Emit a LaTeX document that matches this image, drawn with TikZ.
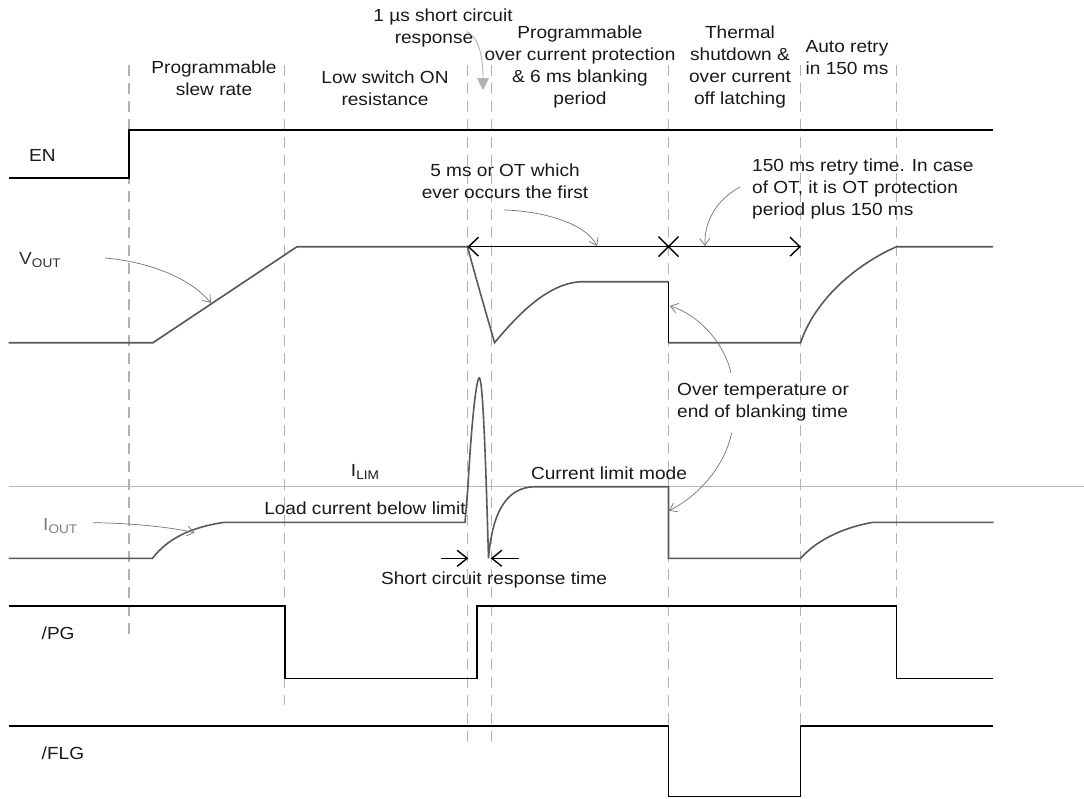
\documentclass[tikz,border=0pt]{standalone}
\usepackage{fontspec}
\setmainfont{Liberation Sans}[FakeStretch=1.09]
\usetikzlibrary{arrows.meta}
\newcommand{\subtxt}[1]{\raisebox{-0.35ex}{\fontsize{12.5}{12.5}\selectfont #1}}
\begin{document}
\begin{tikzpicture}[x=1pt,y=-1pt,
  every node/.style={font=\fontsize{17.5}{22}\selectfont, inner sep=0pt, text=black!90},
  lbl/.style={align=center},
  guide/.style={draw=black!30, line width=1.1pt, dash pattern=on 11pt off 7pt},
  digsig/.style={draw=black, line width=1.5pt},
  anasig/.style={draw=black!65, line width=1.6pt},
  annot/.style={draw=black!55, line width=0.7pt, -{Straight Barb[length=7pt,width=10pt]}},
  dimline/.style={draw=black, line width=1.4pt},
  softarrow/.style={draw=black!30, line width=0.9pt, -{Triangle[length=12pt,width=12pt]}}
]
\useasboundingbox (0,0) rectangle (1084,798);

% guide lines
\foreach \x/\yb in {129/637, 284.8/705, 467.5/748, 491.5/748, 668.5/726, 800.6/726, 896.5/606}
  \draw[guide] (\x,65) -- (\x,\yb);

% I_LIM reference line
\draw[draw=black!28, line width=1pt] (8.6,486.7) -- (1084,486.7);

% EN
\draw[digsig] (8.6,178) -- (129,178) -- (129,130) -- (993,130);

% VOUT
\draw[anasig] (8.6,342.7) -- (153,342.7) -- (297,246.7) -- (467.5,246.7)
  .. controls (475,275) and (488,320) .. (494.6,342.7)
  .. controls (520,312) and (550,282) .. (583,281.7) -- (668.5,281.7);
\draw[digsig] (668.5,281.7) -- (668.5,342.7);
\draw[anasig] (668.5,342.7) -- (800.6,342.7)
  .. controls (815,300) and (855,265) .. (896.5,246.7) -- (993,246.7);

% timing dimension on VOUT
\coordinate (dA) at (467.5,246.7);
\coordinate (dB) at (801,246.7);
\draw[dimline, {Straight Barb[length=10pt,width=19pt]}-{Straight Barb[length=10pt,width=19pt]}] (dA) -- (dB);
\draw[dimline] (658.5,236.7) -- (678.5,256.7) (658.5,256.7) -- (678.5,236.7);

% IOUT
\draw[anasig] (8.6,558.3) -- (152.5,558.3)
  .. controls (168,538) and (192,527) .. (224.5,522.3) -- (465,522.3) -- (468,486)
  .. controls (471,430) and (476,378) .. (479.3,378)
  .. controls (483,378) and (486,470) .. (488.5,558.3)
  .. controls (492,515) and (505,487) .. (535,486.7) -- (668.5,486.7) -- (668.5,558.3) -- (800.6,558.3)
  .. controls (815,542) and (840,528) .. (873,522.3) -- (993.6,522.3);

% PG
\draw[digsig] (8.6,606) -- (284.8,606) -- (284.8,678.3) -- (477,678.3) -- (477,606) -- (896.5,606) -- (896.5,678.3) -- (993.4,678.3);

% FLG
\draw[digsig] (8.6,726) -- (668.5,726) -- (668.5,796.5) -- (800.6,796.5) -- (800.6,726) -- (993,726);

% labels
\node[lbl] (t1) at (443,28) {1 µs short circuit\\response\hspace*{18pt}};
\node[lbl] (t2) at (214,78) {Programmable\\slew rate};
\node[lbl] (t3) at (385,88.5) {Low switch ON\\resistance};
\node[lbl] (t4) at (580,67) {Programmable\\over current protection\\\& 6 ms blanking\\period};
\node[lbl] (t5) at (740,67) {Thermal\\shutdown \&\\over current\\off latching};
\node[lbl] (t6) at (847,57.5) {Auto retry\\in 150 ms};
\node[anchor=west] (en) at (29,155) {EN};
\node[anchor=west, text=black!80] (vout) at (19,260) {V\subtxt{OUT}};
\node[lbl] (t7) at (505,181) {5 ms or OT which\\ever occurs the first};
\node[align=left, anchor=west] (t8) at (752,188.5) {150 ms retry time. In case\\of OT, it is OT protection\\period plus 150 ms};
\node[align=left, anchor=west] (t9) at (677,402) {Over temperature or\\end of blanking time};
\node (ilim) at (365,472) {I\subtxt{LIM}};
\node (t10) at (365,508) {Load current below limit};
\node[anchor=west, text=black!50] (iout) at (43,526) {I\subtxt{OUT}};
\node (t11) at (609,473) {Current limit mode};
\node (t12) at (494,580) {Short circuit response time};
\node[anchor=west] (pg) at (41.5,633) {/PG};
\node[anchor=west] (flg) at (41.5,753) {/FLG};

% annotation arrows
\coordinate (a1s) at (466.5,31.5);
\coordinate (a1e) at (483,90);
\draw[softarrow] (a1s) .. controls (477,36) and (483,52) .. (a1e);

\coordinate (a2s) at (105,258);
\coordinate (a2e) at (211,303);
\draw[annot] (a2s) .. controls (150,262) and (190,278) .. (a2e);

\coordinate (a3s) at (93,522.7);
\coordinate (a3e) at (194.6,532.7);
\draw[annot] (a3s) .. controls (130,523) and (170,527) .. (a3e);

\coordinate (a4s) at (504,210);
\coordinate (a4e) at (597,246);
\draw[annot] (a4s) .. controls (540,211) and (585,222) .. (a4e);

\coordinate (a5s) at (740,187);
\coordinate (a5e) at (705,246);
\draw[annot] (a5s) .. controls (716,200) and (704,222) .. (a5e);

\coordinate (a6s) at (731,373);
\coordinate (a6e) at (670,306);
\draw[annot] (a6s) .. controls (725,345) and (700,315) .. (a6e);

\coordinate (a7s) at (731.6,433);
\coordinate (a7e) at (669,510.7);
\draw[annot] (a7s) .. controls (725,465) and (700,495) .. (a7e);

% short circuit response time markers
\coordinate (s1s) at (440.7,558.3);
\coordinate (s1e) at (468.3,558.3);
\coordinate (s2s) at (519.3,558.3);
\coordinate (s2e) at (490.7,558.3);
\draw[dimline, -{Straight Barb[length=10pt,width=16pt]}] (s1s) -- (s1e);
\draw[dimline, -{Straight Barb[length=10pt,width=16pt]}] (s2s) -- (s2e);
\end{tikzpicture}
\end{document}
